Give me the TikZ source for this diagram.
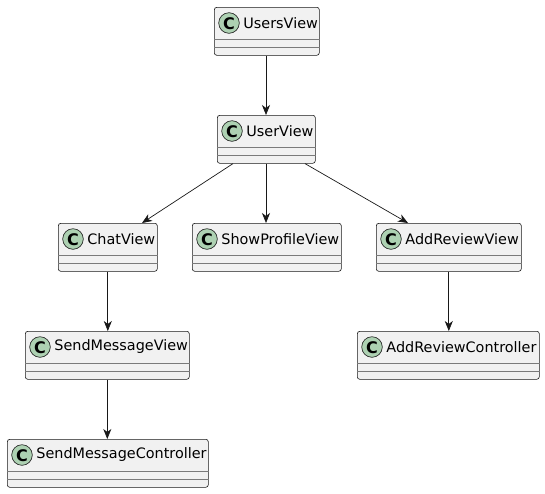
\documentclass[tikz,border=0pt]{standalone}
\usepackage{fontspec}
\setmainfont{DejaVu Sans}
\usetikzlibrary{arrows.meta,calc}
\definecolor{boxfill}{HTML}{F1F1F1}
\definecolor{boxline}{HTML}{181818}
\definecolor{sepcol}{HTML}{7A7A7A}
\definecolor{circfill}{HTML}{ADD1B2}
\tikzset{
  clsbox/.style={draw=boxline, fill=boxfill, line width=0.6pt, rounded corners=2.5pt, inner sep=0pt, minimum height=48pt, anchor=north west},
  sepline/.style={draw=sepcol, line width=0.6pt},
  circ/.style={draw=boxline, fill=circfill, line width=0.6pt},
  clslabel/.style={anchor=west, inner sep=0pt, font=\fontsize{14.4pt}{16pt}\selectfont},
  cletter/.style={inner sep=0pt, font=\fontsize{16pt}{18pt}\selectfont\bfseries},
  assoc/.style={draw=boxline, line width=0.7pt, -{Stealth[length=10pt,width=8pt,inset=3pt]}}
}
\newcommand{\umlclass}[5]{%
  \node[clsbox, minimum width=#3] (#1) at (#2,#4) {};
  \draw[sepline] ($(#1.north west)+(0,32)$) -- ($(#1.north east)+(0,32)$);
  \draw[sepline] ($(#1.north west)+(0,40)$) -- ($(#1.north east)+(0,40)$);
  \draw[circ] ($(#1.north west)+(15,16)$) circle (10.3pt);
  \node[cletter] (#1c) at ($(#1.north west)+(15,16.3)$) {C};
  \node[clslabel] (#1t) at ($(#1.north west)+(29.2,16)$) {#5};
}
\begin{document}
\begin{tikzpicture}[x=1pt,y=-1pt]
\useasboundingbox (0,0) rectangle (545,493);
\umlclass{usersv}{214}{105}{7}{UsersView}
\umlclass{userv}{217}{98}{115}{UserView}
\umlclass{chatv}{58}{99}{223}{ChatView}
\umlclass{showv}{192}{149}{223}{ShowProfileView}
\umlclass{addv}{376}{145}{223}{AddReviewView}
\umlclass{sendv}{25}{164}{331}{SendMessageView}
\umlclass{addc}{357}{182}{331}{AddReviewController}
\umlclass{sendc}{7}{201}{439}{SendMessageController}
\coordinate (p1) at (266,55);
\draw[assoc] (usersv.south -| p1) -- (userv.north -| p1);
\draw[assoc] ($(userv.south west)+(16,0)$) -- ($(chatv.north west)+(84,0)$);
\draw[assoc] (userv.south -| p1) -- (showv.north -| p1);
\draw[assoc] ($(userv.south west)+(88,0)$) -- ($(addv.north west)+(32,0)$);
\draw[assoc] (chatv.south) -- (chatv.south |- sendv.north);
\draw[assoc] (sendv.south) -- (sendv.south |- sendc.north);
\draw[assoc] (addv.south) -- (addv.south |- addc.north);
\end{tikzpicture}
\end{document}
